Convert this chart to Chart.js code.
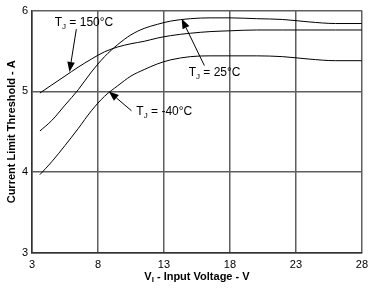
<!DOCTYPE html>
<html>
<head>
<meta charset="utf-8">
<script src="https://cdn.jsdelivr.net/npm/chart.js@4.4.1/dist/chart.umd.min.js"></script>
<style>
  html, body { margin: 0; padding: 0; background: #fff; }
  #wrap { width: 373px; height: 291px; position: relative; }
</style>
</head>
<body>
<div id="wrap"><canvas id="limitChart"></canvas></div>
<script>
// Current limit threshold vs input voltage

const voltage = [3.6, 4.5, 5.5, 6.5, 7.5, 8.5, 9.5, 10.5, 11.5, 12.5, 13.5, 15, 16.5, 18, 20, 22, 24, 26, 28];
const temps = ['150', '25', '-40'];
const limit150 = [4.98, 5.08, 5.19, 5.30, 5.40, 5.49, 5.55, 5.59, 5.62, 5.66, 5.69, 5.72, 5.74, 5.75, 5.76, 5.76, 5.76, 5.76, 5.76];
const limit25 = [4.51, 4.64, 4.83, 5.02, 5.24, 5.43, 5.58, 5.70, 5.78, 5.83, 5.87, 5.90, 5.91, 5.91, 5.90, 5.89, 5.86, 5.84, 5.84];
const limitM40 = [3.97, 4.13, 4.33, 4.54, 4.76, 4.94, 5.07, 5.19, 5.27, 5.34, 5.39, 5.43, 5.44, 5.44, 5.44, 5.43, 5.40, 5.38, 5.38];
const xTicks = [3, 8, 13, 18, 23, 28];
const yTicks = [3, 4, 5, 6];

const FONT = 'Arial, "Liberation Sans", Helvetica, sans-serif';

// where each callout sits (data units): text anchor, arrow tail, arrow tip
const callouts = [
    { temp: temps[0], text: [4.72, 5.855], tail: [6.36, 5.77], tip: [5.84, 5.24] },
    { temp: temps[1], text: [14.87, 5.23], tail: [16.06, 5.32], tip: [14.34, 5.90] },
    { temp: temps[2], text: [10.91, 4.75], tail: [10.54, 4.76], tip: [8.82, 5.00] }
];

function toPoints(ys) {
    return voltage.map((v, i) => ({ x: v, y: ys[i] }));
}

const calloutPlugin = {
    id: 'callouts',
    afterDatasetsDraw(chart) {
        const { ctx, scales: { x, y } } = chart;
        ctx.save();
        callouts.forEach(c => {
            const tx = x.getPixelForValue(c.tail[0]), ty = y.getPixelForValue(c.tail[1]);
            const px = x.getPixelForValue(c.tip[0]), py = y.getPixelForValue(c.tip[1]);
            const ang = Math.atan2(py - ty, px - tx);
            const headLen = 10, headW = 3.8;
            const bx = px - Math.cos(ang) * headLen, by = py - Math.sin(ang) * headLen;

            ctx.strokeStyle = '#000';
            ctx.lineWidth = 1;
            ctx.beginPath();
            ctx.moveTo(tx, ty);
            ctx.lineTo(bx, by);
            ctx.stroke();

            ctx.fillStyle = '#000';
            ctx.beginPath();
            ctx.moveTo(px, py);
            ctx.lineTo(bx + Math.sin(ang) * headW, by - Math.cos(ang) * headW);
            ctx.lineTo(bx - Math.sin(ang) * headW, by + Math.cos(ang) * headW);
            ctx.closePath();
            ctx.fill();

            // T with subscript J
            let lx = x.getPixelForValue(c.text[0]);
            const ly = y.getPixelForValue(c.text[1]);
            ctx.textBaseline = 'middle';
            ctx.textAlign = 'left';
            ctx.font = '12px ' + FONT;
            ctx.fillText('T', lx, ly);
            lx += ctx.measureText('T').width;
            ctx.font = '8px ' + FONT;
            ctx.fillText('J', lx, ly + 4);
            lx += ctx.measureText('J').width;
            ctx.font = '12px ' + FONT;
            ctx.fillText(' = ' + c.temp + '°C', lx, ly);
        });
        ctx.restore();
    }
};

const axisTitlePlugin = {
    id: 'axisTitles',
    afterDraw(chart) {
        const { ctx, chartArea: a } = chart;
        ctx.save();
        ctx.fillStyle = '#000';
        ctx.textBaseline = 'middle';
        // x title with subscript I
        ctx.font = 'bold 11px ' + FONT;
        const pre = 'V', sub = 'I', post = ' - Input Voltage - V';
        const wPre = ctx.measureText(pre).width, wPost = ctx.measureText(post).width;
        ctx.font = 'bold 8px ' + FONT;
        const wSub = ctx.measureText(sub).width;
        let sx = (a.left + a.right) / 2 - (wPre + wSub + wPost) / 2;
        const sy = 277;
        ctx.textAlign = 'left';
        ctx.font = 'bold 11px ' + FONT;
        ctx.fillText(pre, sx, sy);
        sx += wPre;
        ctx.font = 'bold 8px ' + FONT;
        ctx.fillText(sub, sx, sy + 3);
        sx += wSub;
        ctx.font = 'bold 11px ' + FONT;
        ctx.fillText(post, sx, sy);
        // y title
        ctx.translate(12, (a.top + a.bottom) / 2);
        ctx.rotate(-Math.PI / 2);
        ctx.textAlign = 'center';
        ctx.fillText('Current Limit Threshold - A', 0, 0);
        ctx.restore();
    }
};

function lineSet(label, ys) {
    return {
        label: label,
        data: toPoints(ys),
        borderColor: '#000',
        borderWidth: 1,
        pointRadius: 0,
        cubicInterpolationMode: 'monotone',
        fill: false
    };
}

new Chart(document.getElementById('limitChart'), {
    type: 'line',
    data: {
        datasets: [
            lineSet('TJ = 150°C', limit150),
            lineSet('TJ = 25°C', limit25),
            lineSet('TJ = -40°C', limitM40)
        ]
    },
    options: {
        responsive: true,
        maintainAspectRatio: false,
        animation: false,
        layout: { padding: { top: 5, right: 7, left: 0, bottom: 0 } },
        plugins: {
            legend: { display: false },
            tooltip: { enabled: false }
        },
        scales: {
            x: {
                type: 'linear',
                min: 3,
                max: 28,
                afterBuildTicks: s => { s.ticks = xTicks.map(v => ({ value: v })); },
                afterFit: s => { s.height = 38; },
                grid: { color: '#5e5e5e', lineWidth: 1.5, drawTicks: false },
                border: { color: '#333', width: 1.5 },
                ticks: { color: '#000', padding: 5, maxRotation: 0, font: { family: FONT, size: 11 } }
            },
            y: {
                min: 3,
                max: 6,
                afterBuildTicks: s => { s.ticks = yTicks.map(v => ({ value: v })); },
                afterFit: s => { s.width = 32; },
                grid: { color: '#5e5e5e', lineWidth: 1.5, drawTicks: false },
                border: { color: '#333', width: 1.5 },
                ticks: { color: '#000', padding: 4, font: { family: FONT, size: 11 } }
            }
        }
    },
    plugins: [calloutPlugin, axisTitlePlugin]
});
</script>
</body>
</html>
